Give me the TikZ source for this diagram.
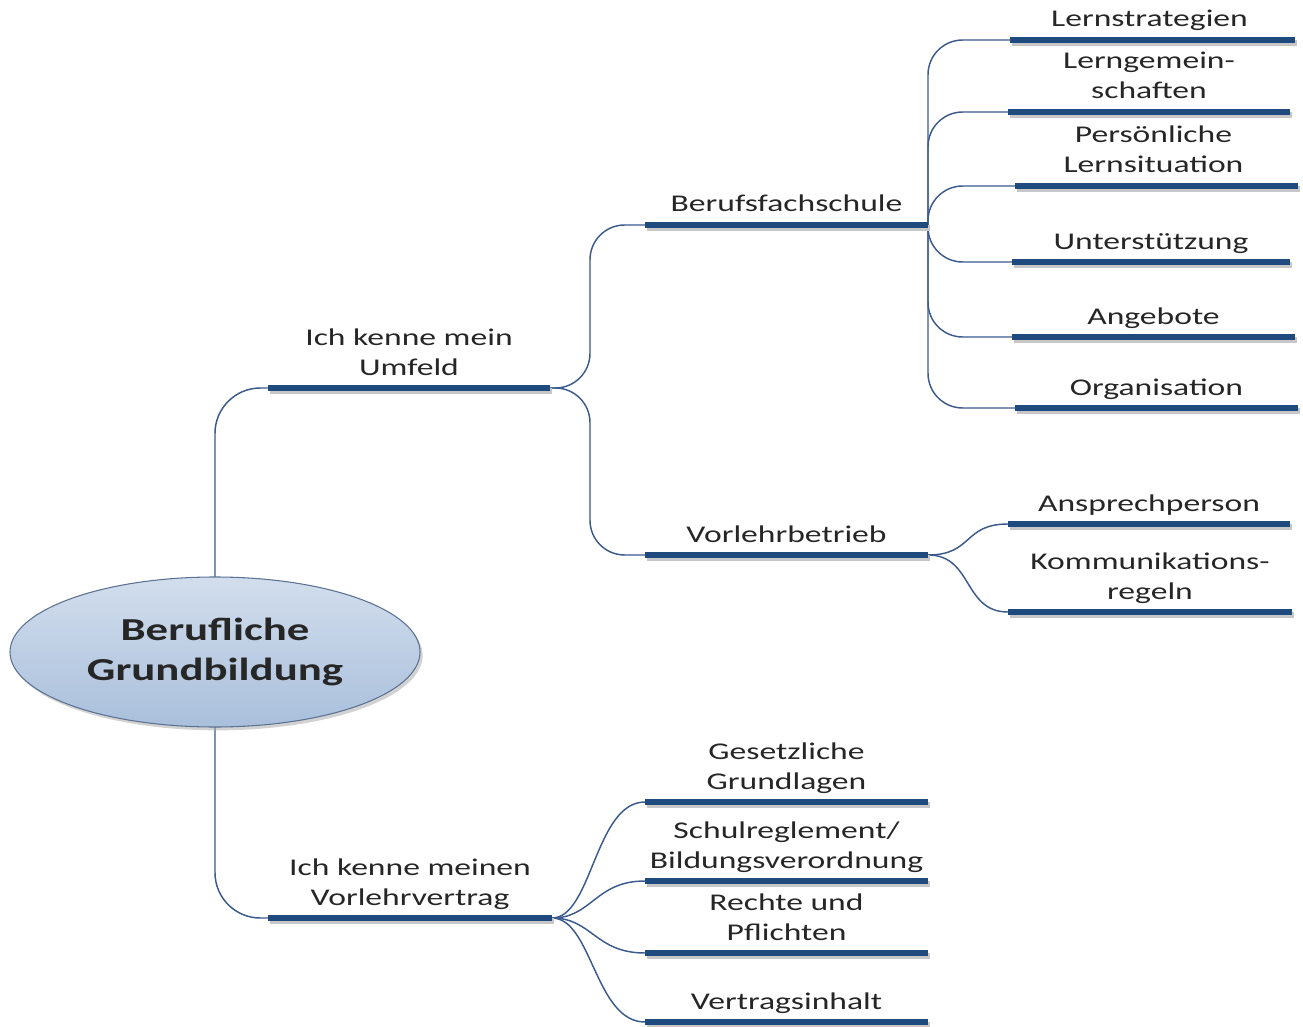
\documentclass[tikz,border=0pt]{standalone}
\usepackage{fontspec}
\setmainfont{Carlito}
\usetikzlibrary{shapes.geometric,calc,shadows}
\definecolor{barblue}{HTML}{1F4A7E}
\definecolor{linkblue}{HTML}{3B5B8C}
\definecolor{txt}{HTML}{262626}
\definecolor{ellTop}{HTML}{D2DEED}
\definecolor{ellBot}{HTML}{A9BFDB}
\definecolor{ellBorder}{HTML}{5C7293}
\newcommand{\mmlbl}[1]{\scalebox{1.4}[1]{\begin{tabular}[b]{@{}c@{}}#1\end{tabular}}}
\newcommand{\mmcenter}[1]{\scalebox{1.4}[1]{\begin{tabular}{@{}c@{}}#1\end{tabular}}}
\begin{document}
\begin{tikzpicture}[x=0.75pt,y=-0.75pt,
  bar/.style={line width=4.5pt, draw=barblue},
  barshadow/.style={line width=4.5pt, draw=black!22},
  conn/.style={draw=linkblue, line width=1.1pt},
  lbl/.style={anchor=base, inner sep=0pt, text=txt, font=\fontsize{18pt}{22.5pt}\selectfont},
  rootnode/.style={ellipse, minimum width=307.5pt, minimum height=112.5pt, inner sep=0pt,
    draw=ellBorder, line width=0.8pt, top color=ellTop, bottom color=ellBot,
    drop shadow={shadow xshift=2pt, shadow yshift=-2.5pt, fill=black!35},
    text=txt, font=\bfseries\fontsize{24pt}{30pt}\selectfont},
]
\useasboundingbox (0,0) rectangle (1303,1027);

% bar end points
\foreach \n/\xa/\xb/\yy in {U/268/550/388, VV/268/552/918,
    B/645/928/225, VB/645/928/555,
    ls/1010/1295/40, lg/1008/1290/112, pl/1015/1298/186, us/1012/1290/262,
    an/1012/1295/337, or/1015/1298/408,
    ap/1008/1290/524, kr/1008/1292/612,
    gg/645/928/802, sr/645/928/881, rp/645/928/953, vi/645/928/1022} {
  \coordinate (\n-a) at (\xa,\yy);
  \coordinate (\n-b) at (\xb,\yy);
}

\coordinate (Ec) at (215,652);
\coordinate (Etop) at (215,577);
\coordinate (Ebot) at (215,727);

% connectors
\draw[conn, rounded corners=34pt] (Etop) |- (U-a);
\draw[conn, rounded corners=34pt] (Ebot) |- (VV-a);
\draw[conn, rounded corners=26pt] (U-b) -- ++(40,0) |- (B-a);
\draw[conn, rounded corners=26pt] (U-b) -- ++(40,0) |- (VB-a);
\foreach \c in {ls,lg,pl,us,an,or}
  \draw[conn, rounded corners=26pt] (B-b) |- (\c-a);
\foreach \c in {ap,kr}
  \draw[conn] (VB-b) .. controls +(45,0) and +(-45,0) .. (\c-a);
\foreach \c in {gg,sr,rp,vi}
  \draw[conn] (VV-b) .. controls +(40,0) and +(-50,0) .. (\c-a);

% bars
\foreach \n in {U,VV,B,VB,ls,lg,pl,us,an,or,ap,kr,gg,sr,rp,vi} {
  \draw[barshadow] ($(\n-a)+(2,3)$) -- ($(\n-b)+(2,3)$);
  \draw[bar] (\n-a) -- (\n-b);
}

% root
\node[rootnode] (E) at (Ec) {\mmcenter{Berufliche\\Grundbildung}};

% labels
\node[lbl] (tU) at ($(U-a)!0.5!(U-b)+(0,-13)$) {\mmlbl{Ich kenne mein\\Umfeld}};
\node[lbl] (tVV) at ($(VV-a)!0.5!(VV-b)+(0,-13)$) {\mmlbl{Ich kenne meinen\\Vorlehrvertrag}};
\node[lbl] (tB) at ($(B-a)!0.5!(B-b)+(0,-13)$) {\mmlbl{Berufsfachschule}};
\node[lbl] (tVB) at ($(VB-a)!0.5!(VB-b)+(0,-13)$) {\mmlbl{Vorlehrbetrieb}};
\node[lbl] (tls) at ($(ls-a)!0.5!(ls-b)+(-3,-13)$) {\mmlbl{Lernstrategien}};
\node[lbl] (tlg) at ($(lg-a)!0.5!(lg-b)+(0,-13)$) {\mmlbl{Lerngemein-\\schaften}};
\node[lbl] (tpl) at ($(pl-a)!0.5!(pl-b)+(-3,-13)$) {\mmlbl{Persönliche\\Lernsituation}};
\node[lbl] (tus) at ($(us-a)!0.5!(us-b)+(0,-13)$) {\mmlbl{Unterstützung}};
\node[lbl] (tan) at ($(an-a)!0.5!(an-b)+(0,-13)$) {\mmlbl{Angebote}};
\node[lbl] (tor) at ($(or-a)!0.5!(or-b)+(0,-13)$) {\mmlbl{Organisation}};
\node[lbl] (tap) at ($(ap-a)!0.5!(ap-b)+(0,-13)$) {\mmlbl{Ansprechperson}};
\node[lbl] (tkr) at ($(kr-a)!0.5!(kr-b)+(0,-13)$) {\mmlbl{Kommunikations-\\regeln}};
\node[lbl] (tgg) at ($(gg-a)!0.5!(gg-b)+(0,-13)$) {\mmlbl{Gesetzliche\\Grundlagen}};
\node[lbl] (tsr) at ($(sr-a)!0.5!(sr-b)+(0,-13)$) {\mmlbl{Schulreglement/\\Bildungsverordnung}};
\node[lbl] (trp) at ($(rp-a)!0.5!(rp-b)+(0,-13)$) {\mmlbl{Rechte und\\Pflichten}};
\node[lbl] (tvi) at ($(vi-a)!0.5!(vi-b)+(0,-13)$) {\mmlbl{Vertragsinhalt}};
\end{tikzpicture}
\end{document}
